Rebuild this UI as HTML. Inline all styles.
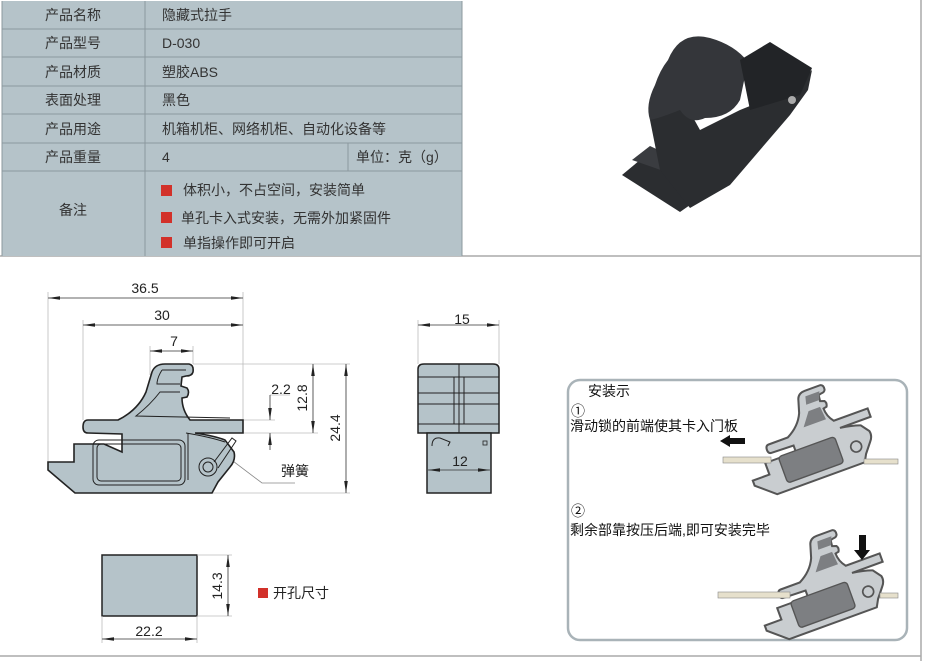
<!DOCTYPE html>
<html><head><meta charset="utf-8"><style>
html,body{margin:0;padding:0;background:#fff;}
svg{display:block;font-family:"Liberation Sans","Noto Sans CJK SC",sans-serif;}
</style></head><body>
<svg width="925" height="661" viewBox="0 0 925 661" xmlns="http://www.w3.org/2000/svg">
<defs>
<marker id="ar" markerWidth="12" markerHeight="6" refX="12" refY="3" orient="auto" markerUnits="userSpaceOnUse"><path d="M0,1.2 L12,3 L0,4.8Z" fill="#222"/></marker>
<marker id="al" markerWidth="12" markerHeight="6" refX="0" refY="3" orient="auto" markerUnits="userSpaceOnUse"><path d="M12,1.2 L0,3 L12,4.8Z" fill="#222"/></marker>
<path id="prof" d="M88,420 L118,420 Q138,410 146,392 L152,372 Q155,364 165,364 L189,364 Q194,365 193,372 Q192,376 186,376 L182,377 L181,386 L187,388 Q190,392 187,397 L182,398 Q182,410 190,420 L243,420 L243,433 L195,433 Q215,436 225,440 L234,452 Q236,460 230,467 L218,482 L212,493 L75,493 L48,470 L48,462 L74,462 L74,444 L104,444 L122,452 L122,434 L88,433 Q83,433 83,427 Q83,420 88,420 Z"/>
</defs>

<!-- frame -->
<line x1="921" y1="0" x2="921" y2="661" stroke="#aaa" stroke-width="1.5"/>
<line x1="0" y1="256" x2="921" y2="256" stroke="#aaa" stroke-width="1.5"/>
<line x1="0" y1="656" x2="921" y2="656" stroke="#aaa" stroke-width="1.5"/>

<!-- table -->
<rect x="2" y="1" width="460" height="255" fill="#b5c3c9"/>
<g stroke="#8c989e" stroke-width="1">
<line x1="2" y1="29" x2="462" y2="29"/><line x1="2" y1="57" x2="462" y2="57"/>
<line x1="2" y1="86" x2="462" y2="86"/><line x1="2" y1="114" x2="462" y2="114"/>
<line x1="2" y1="143" x2="462" y2="143"/><line x1="2" y1="171" x2="462" y2="171"/>
<line x1="145" y1="1" x2="145" y2="256"/><line x1="348" y1="143" x2="348" y2="171"/>
<line x1="462" y1="1" x2="462" y2="256"/><line x1="2" y1="1" x2="2" y2="256"/>
</g>
<g font-size="14" fill="#333" text-anchor="middle">
<text x="73" y="20">产品名称</text><text x="73" y="48">产品型号</text>
<text x="73" y="77">产品材质</text><text x="73" y="105">表面处理</text>
<text x="73" y="134">产品用途</text><text x="73" y="162">产品重量</text>
<text x="73" y="215">备注</text>
</g>
<g font-size="14" fill="#333">
<text x="162" y="20">隐藏式拉手</text><text x="162" y="48">D-030</text>
<text x="162" y="77">塑胶ABS</text><text x="162" y="105">黑色</text>
<text x="162" y="134">机箱机柜、网络机柜、自动化设备等</text>
<text x="162" y="162">4</text><text x="356" y="162">单位：克（g）</text>
<text x="183" y="195">体积小，不占空间，安装简单</text>
<text x="181" y="223">单孔卡入式安装，无需外加紧固件</text>
<text x="183" y="248">单指操作即可开启</text>
</g>
<rect x="161" y="185" width="11" height="11" fill="#d2312a"/>
<rect x="161" y="212" width="11" height="11" fill="#d2312a"/>
<rect x="161" y="237" width="11" height="11" fill="#d2312a"/>

<!-- photo -->
<g fill="#2b2d30">
<path d="M622,175 L640,160 L700,188 L690,205 L680,212 Z"/>
<path d="M632,160 L650,146 L705,172 L695,182 Z" fill="#3a3c40"/>
<path d="M650,120 Q660,95 675,85 L700,130 L740,110 L790,90 L812,70 L808,90 L790,115 L760,150 L730,185 L690,208 L660,170 Z"/>
<path d="M668,60 Q680,30 710,38 Q735,45 748,62 L740,100 Q730,118 705,118 Q690,125 680,110 Q660,118 650,120 Q645,105 655,85 Q660,70 668,60 Z" fill="#34363a"/>
<path d="M740,60 L770,42 L812,68 L800,95 L750,110 Z" fill="#222427"/>
<circle cx="792" cy="100" r="4" fill="#aaa"/>
</g>

<!-- side view -->
<g stroke="#bbb" stroke-width="0.8">
<line x1="48" y1="292" x2="48" y2="462"/><line x1="243" y1="292" x2="243" y2="420"/>
<line x1="83" y1="320" x2="83" y2="420"/><line x1="150" y1="346" x2="150" y2="375"/>
<line x1="193" y1="346" x2="193" y2="364"/>
<line x1="193" y1="364" x2="350" y2="364"/><line x1="243" y1="420" x2="275" y2="420"/>
<line x1="243" y1="433" x2="318" y2="433"/><line x1="208" y1="493" x2="350" y2="493"/>
<line x1="270" y1="395" x2="290" y2="395"/>
<path d="M225,455 L262,483 L295,483" fill="none" stroke="#888"/>
</g>
<g stroke="#333" stroke-width="0.8" fill="none">
<line x1="48" y1="298" x2="243" y2="298" marker-start="url(#al)" marker-end="url(#ar)"/>
<line x1="83" y1="325" x2="243" y2="325" marker-start="url(#al)" marker-end="url(#ar)"/>
<line x1="150" y1="351" x2="193" y2="351" marker-start="url(#al)" marker-end="url(#ar)"/>
<line x1="313" y1="364" x2="313" y2="433" marker-start="url(#al)" marker-end="url(#ar)"/>
<line x1="346" y1="364" x2="346" y2="493" marker-start="url(#al)" marker-end="url(#ar)"/>
<line x1="270" y1="395" x2="270" y2="420" marker-end="url(#ar)"/>
<line x1="270" y1="450" x2="270" y2="433" marker-end="url(#ar)"/>
</g>
<g font-size="14" fill="#222" text-anchor="middle">
<text x="145" y="293">36.5</text><text x="162" y="320">30</text><text x="174" y="346">7</text>
<text x="281" y="394">2.2</text><text x="281" y="476" text-anchor="start">弹簧</text>
<text transform="translate(307,398) rotate(-90)">12.8</text>
<text transform="translate(340,428) rotate(-90)">24.4</text>
</g>
<use href="#prof" fill="#b5c3c9" stroke="#222" stroke-width="1.6"/>
<g fill="none" stroke="#222" stroke-width="1">
<path d="M162,370 L186,370 M162,370 Q157,378 157,384 L180,384 M180,392 L160,392 Q150,405 136,416 L230,418"/>
<path d="M186,433 Q210,437 225,442"/>
<rect x="93" y="440" width="92" height="45" rx="6"/>
<rect x="97" y="444" width="84" height="37" rx="4"/>
<circle cx="208" cy="467" r="9"/><circle cx="208" cy="467" r="5"/>
<path d="M214,462 L232,438 L236,441 L218,468"/>
<line x1="188" y1="433" x2="188" y2="480"/>
</g>

<!-- front view -->
<g stroke="#bbb" stroke-width="0.8"><line x1="418" y1="320" x2="418" y2="364"/><line x1="499" y1="320" x2="499" y2="364"/></g>
<line x1="418" y1="325" x2="499" y2="325" stroke="#333" stroke-width="0.8" marker-start="url(#al)" marker-end="url(#ar)"/>
<text x="462" y="324" font-size="14" fill="#222" text-anchor="middle">15</text>
<path d="M418,433 L418,369 Q418,364 424,364 L493,364 Q499,364 499,369 L499,433 Z" fill="#b5c3c9" stroke="#222" stroke-width="1.5"/>
<g stroke="#222" stroke-width="1"><line x1="459" y1="364" x2="459" y2="433"/>
<line x1="418" y1="377" x2="499" y2="377"/><line x1="418" y1="393" x2="499" y2="393"/>
<line x1="418" y1="404" x2="499" y2="404"/><line x1="418" y1="424" x2="499" y2="424"/>
<line x1="454" y1="377" x2="454" y2="424"/><line x1="464" y1="377" x2="464" y2="424"/></g>
<rect x="427" y="433" width="64" height="60" fill="#b5c3c9" stroke="#222" stroke-width="1.5"/>
<path d="M432,446 Q432,437 440,438 L450,442 L448,446" fill="none" stroke="#222"/>
<rect x="483" y="441" width="4" height="4" fill="none" stroke="#222" stroke-width="0.8"/>
<line x1="428" y1="470" x2="490" y2="470" stroke="#333" stroke-width="0.8" marker-start="url(#al)" marker-end="url(#ar)"/>
<text x="460" y="466" font-size="14" fill="#222" text-anchor="middle">12</text>

<!-- hole -->
<rect x="102" y="555" width="95" height="61" fill="#b5c3c9" stroke="#222" stroke-width="1.5"/>
<g stroke="#bbb" stroke-width="0.8"><line x1="197" y1="555" x2="232" y2="555"/><line x1="197" y1="616" x2="232" y2="616"/>
<line x1="102" y1="616" x2="102" y2="643"/><line x1="197" y1="616" x2="197" y2="643"/></g>
<line x1="228" y1="555" x2="228" y2="616" stroke="#333" stroke-width="0.8" marker-start="url(#al)" marker-end="url(#ar)"/>
<line x1="102" y1="639" x2="197" y2="639" stroke="#333" stroke-width="0.8" marker-start="url(#al)" marker-end="url(#ar)"/>
<text x="149" y="636" font-size="14" fill="#222" text-anchor="middle">22.2</text>
<text transform="translate(222,586) rotate(-90)" font-size="14" fill="#222" text-anchor="middle">14.3</text>
<rect x="258" y="588" width="10" height="10" fill="#d2312a"/>
<text x="273" y="598" font-size="14" fill="#222">开孔尺寸</text>

<!-- install panel -->
<rect x="568" y="380" width="339" height="260" rx="12" fill="#fff" stroke="#a9b3b8" stroke-width="2.5"/>
<g font-size="14" fill="#111">
<text x="588" y="396">安装示</text>
<text x="571" y="416">①</text>
<text x="570" y="431">滑动锁的前端使其卡入门板</text>
<text x="571" y="516">②</text>
<text x="570" y="535">剩余部靠按压后端,即可安装完毕</text>
</g>
<g transform="translate(730,418) rotate(-20) scale(0.68) translate(-48,-364)">
<use href="#prof" fill="#c9cdd0" stroke="#555" stroke-width="3"/>
<rect x="95" y="442" width="88" height="41" rx="5" fill="#7d7f82" stroke="#555" stroke-width="2"/>
<path d="M163,372 L185,372 L180,384 L160,384 Z M178,394 L160,394 L145,414 L180,414 Z" fill="#7d7f82"/>
<circle cx="208" cy="467" r="8" fill="#c9cdd0" stroke="#555" stroke-width="2.5"/>
</g>
<rect x="723" y="457" width="48" height="6" fill="#e6e0cc" stroke="#888" stroke-width="0.6"/>
<rect x="864" y="459" width="34" height="5" fill="#e6e0cc" stroke="#888" stroke-width="0.6"/>
<path d="M720,441 L730,435 L730,438 L745,438 L745,444 L730,444 L730,447 Z" fill="#111"/>
<g transform="translate(742,563) rotate(-20) scale(0.68) translate(-48,-364)">
<use href="#prof" fill="#c9cdd0" stroke="#555" stroke-width="3"/>
<rect x="95" y="442" width="88" height="41" rx="5" fill="#7d7f82" stroke="#555" stroke-width="2"/>
<path d="M163,372 L185,372 L180,384 L160,384 Z M178,394 L160,394 L145,414 L180,414 Z" fill="#7d7f82"/>
<circle cx="208" cy="467" r="8" fill="#c9cdd0" stroke="#555" stroke-width="2.5"/>
</g>
<rect x="718" y="592" width="72" height="6" fill="#e6e0cc" stroke="#888" stroke-width="0.6"/>
<rect x="880" y="593" width="18" height="5" fill="#e6e0cc" stroke="#888" stroke-width="0.6"/>
<path d="M859,535 L866,535 L866,550 L870,550 L862,560 L854,550 L859,550 Z" fill="#111"/>
</svg>
</body></html>
